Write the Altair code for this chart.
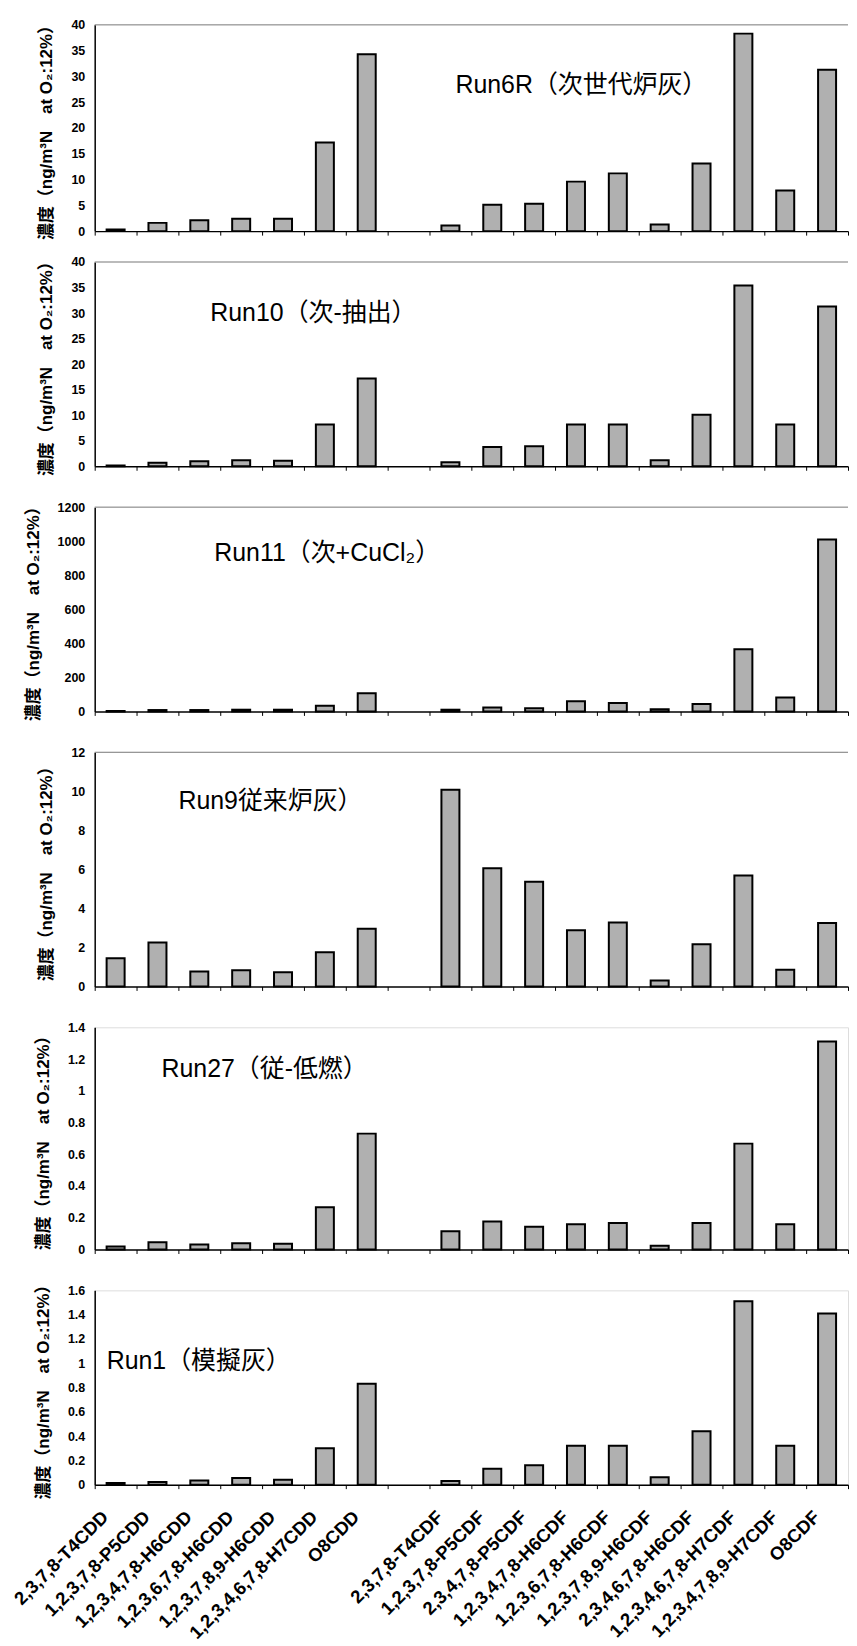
import altair as alt
import pandas as pd

cdd_names = ["2,3,7,8-T4CDD", "1,2,3,7,8-P5CDD", "1,2,3,4,7,8-H6CDD", "1,2,3,6,7,8-H6CDD",
             "1,2,3,7,8,9-H6CDD", "1,2,3,4,6,7,8-H7CDD", "O8CDD"]
gap_name = [" "]
cdf_names = ["2,3,7,8-T4CDF", "1,2,3,7,8-P5CDF", "2,3,4,7,8-P5CDF", "1,2,3,4,7,8-H6CDF",
             "1,2,3,6,7,8-H6CDF", "1,2,3,7,8,9-H6CDF", "2,3,4,6,7,8-H6CDF",
             "1,2,3,4,6,7,8-H7CDF", "1,2,3,4,7,8,9-H7CDF", "O8CDF"]
categories = cdd_names + gap_name + cdf_names

run_labels = ["Run6R（次世代炉灰）", "Run10（次-抽出）", "Run11（次+CuCl₂）",
              "Run9従来炉灰）", "Run27（従-低燃）", "Run1（模擬灰）"]

run6r_cdd = [0.3, 1.6, 2.1, 2.4, 2.4, 17.2, 34.3]
run6r_cdf = [1.1, 5.1, 5.3, 9.6, 11.2, 1.3, 13.1, 38.3, 7.9, 31.3]
run10_cdd = [0.15, 0.7, 1.0, 1.2, 1.1, 8.2, 17.2]
run10_cdf = [0.8, 3.8, 3.9, 8.2, 8.2, 1.2, 10.1, 35.4, 8.2, 31.3]
run11_cdd = [2, 8, 8, 10, 10, 33, 107]
run11_cdf = [10, 23, 18, 59, 49, 12, 43, 365, 82, 1010]
run9_cdd = [1.45, 2.25, 0.77, 0.83, 0.73, 1.75, 2.95]
run9_cdf = [10.08, 6.06, 5.36, 2.88, 3.27, 0.31, 2.16, 5.69, 0.85, 3.25]
run27_cdd = [0.019, 0.046, 0.031, 0.040, 0.036, 0.266, 0.73]
run27_cdf = [0.115, 0.176, 0.144, 0.159, 0.167, 0.023, 0.167, 0.667, 0.159, 1.31]
run1_cdd = [0.014, 0.022, 0.035, 0.054, 0.040, 0.30, 0.83]
run1_cdf = [0.03, 0.13, 0.16, 0.32, 0.32, 0.06, 0.44, 1.51, 0.32, 1.41]

y_ticks = [
    [0, 5, 10, 15, 20, 25, 30, 35, 40],
    [0, 5, 10, 15, 20, 25, 30, 35, 40],
    [0, 200, 400, 600, 800, 1000, 1200],
    [0, 2, 4, 6, 8, 10, 12],
    [0, 0.2, 0.4, 0.6, 0.8, 1.0, 1.2, 1.4],
    [0, 0.2, 0.4, 0.6, 0.8, 1.0, 1.2, 1.4, 1.6],
]

y_title = "濃度（ng/m³N　at O₂:12%）"
FONT = "Liberation Sans, Noto Sans CJK JP"
W = 756
heights = [207, 205, 205, 235, 223, 195]
label_pos = [(362, 60), (116, 51), (120, 46), (84, 49), (67, 42), (12, 71)]
full_frame = [False, False, False, False, True, True]


def panel(i, cdd, cdf, last):
    df = pd.DataFrame({"cat": cdd_names + cdf_names, "val": cdd + cdf})
    if last:
        xaxis = alt.Axis(labels=True, labelAngle=315, labelAlign="right", labelBaseline="middle",
                         labelFont=FONT, labelFontSize=18.5, labelFontWeight="bold", labelColor="black",
                         labelOffset=-11, labelPadding=25, ticks=True, tickBand="extent", tickSize=4,
                         tickColor="black", domainColor="black", domainWidth=1.5, title=None,
                         labelOverlap=False)
    else:
        xaxis = alt.Axis(labels=False, ticks=True, tickBand="extent", tickSize=4, tickColor="black",
                         domainColor="black", domainWidth=1.5, title=None, minExtent=0)
    yaxis = alt.Axis(values=y_ticks[i], format="~r", labelFont=FONT, labelFontSize=12.5,
                     labelFontWeight="bold", labelColor="black", labelPadding=10, ticks=False,
                     domainColor="black", domainWidth=1.5, grid=False, title=y_title,
                     titleFont=FONT, titleFontSize=17, titleFontWeight="bold", titleColor="black",
                     titlePadding=15)
    bars = alt.Chart(df).mark_bar(fill="#b0b0b0", stroke="black", strokeWidth=2,
                                  width=alt.RelativeBandSize(0.43)).encode(
        x=alt.X("cat:N", sort=categories,
                scale=alt.Scale(domain=categories, paddingInner=0, paddingOuter=0), axis=xaxis),
        y=alt.Y("val:Q", scale=alt.Scale(domain=[0, y_ticks[i][-1]], nice=False), axis=yaxis),
    )
    lx, ly = label_pos[i]
    text = alt.Chart(pd.DataFrame({"t": [run_labels[i]]})).mark_text(
        align="left", baseline="middle", font=FONT, fontSize=25, color="black"
    ).encode(text="t:N", x=alt.value(lx), y=alt.value(ly))
    if full_frame[i]:
        return alt.layer(bars, text).properties(width=W, height=heights[i])
    top_line = alt.Chart(pd.DataFrame({"k": [0]})).mark_rule(color="#777777", strokeWidth=1).encode(
        x=alt.value(0), x2=alt.value(W), y=alt.value(0))
    return alt.layer(bars, text, top_line).properties(
        width=W, height=heights[i], view=alt.ViewBackground(stroke="transparent"))


series = [(run6r_cdd, run6r_cdf), (run10_cdd, run10_cdf), (run11_cdd, run11_cdf),
          (run9_cdd, run9_cdf), (run27_cdd, run27_cdf), (run1_cdd, run1_cdf)]
panels = [panel(i, a, b, i == 5) for i, (a, b) in enumerate(series)]

inner = alt.vconcat(*panels[1:], spacing=41, bounds="flush")
chart = alt.vconcat(panels[0], inner, spacing=31, bounds="flush").properties(
    padding={"left": 2, "top": 5, "right": 0, "bottom": 0}
).configure_view(stroke="#777777", strokeWidth=1).configure(background="white")

chart.save("out.html", embed_options={"renderer": "svg", "actions": False})
